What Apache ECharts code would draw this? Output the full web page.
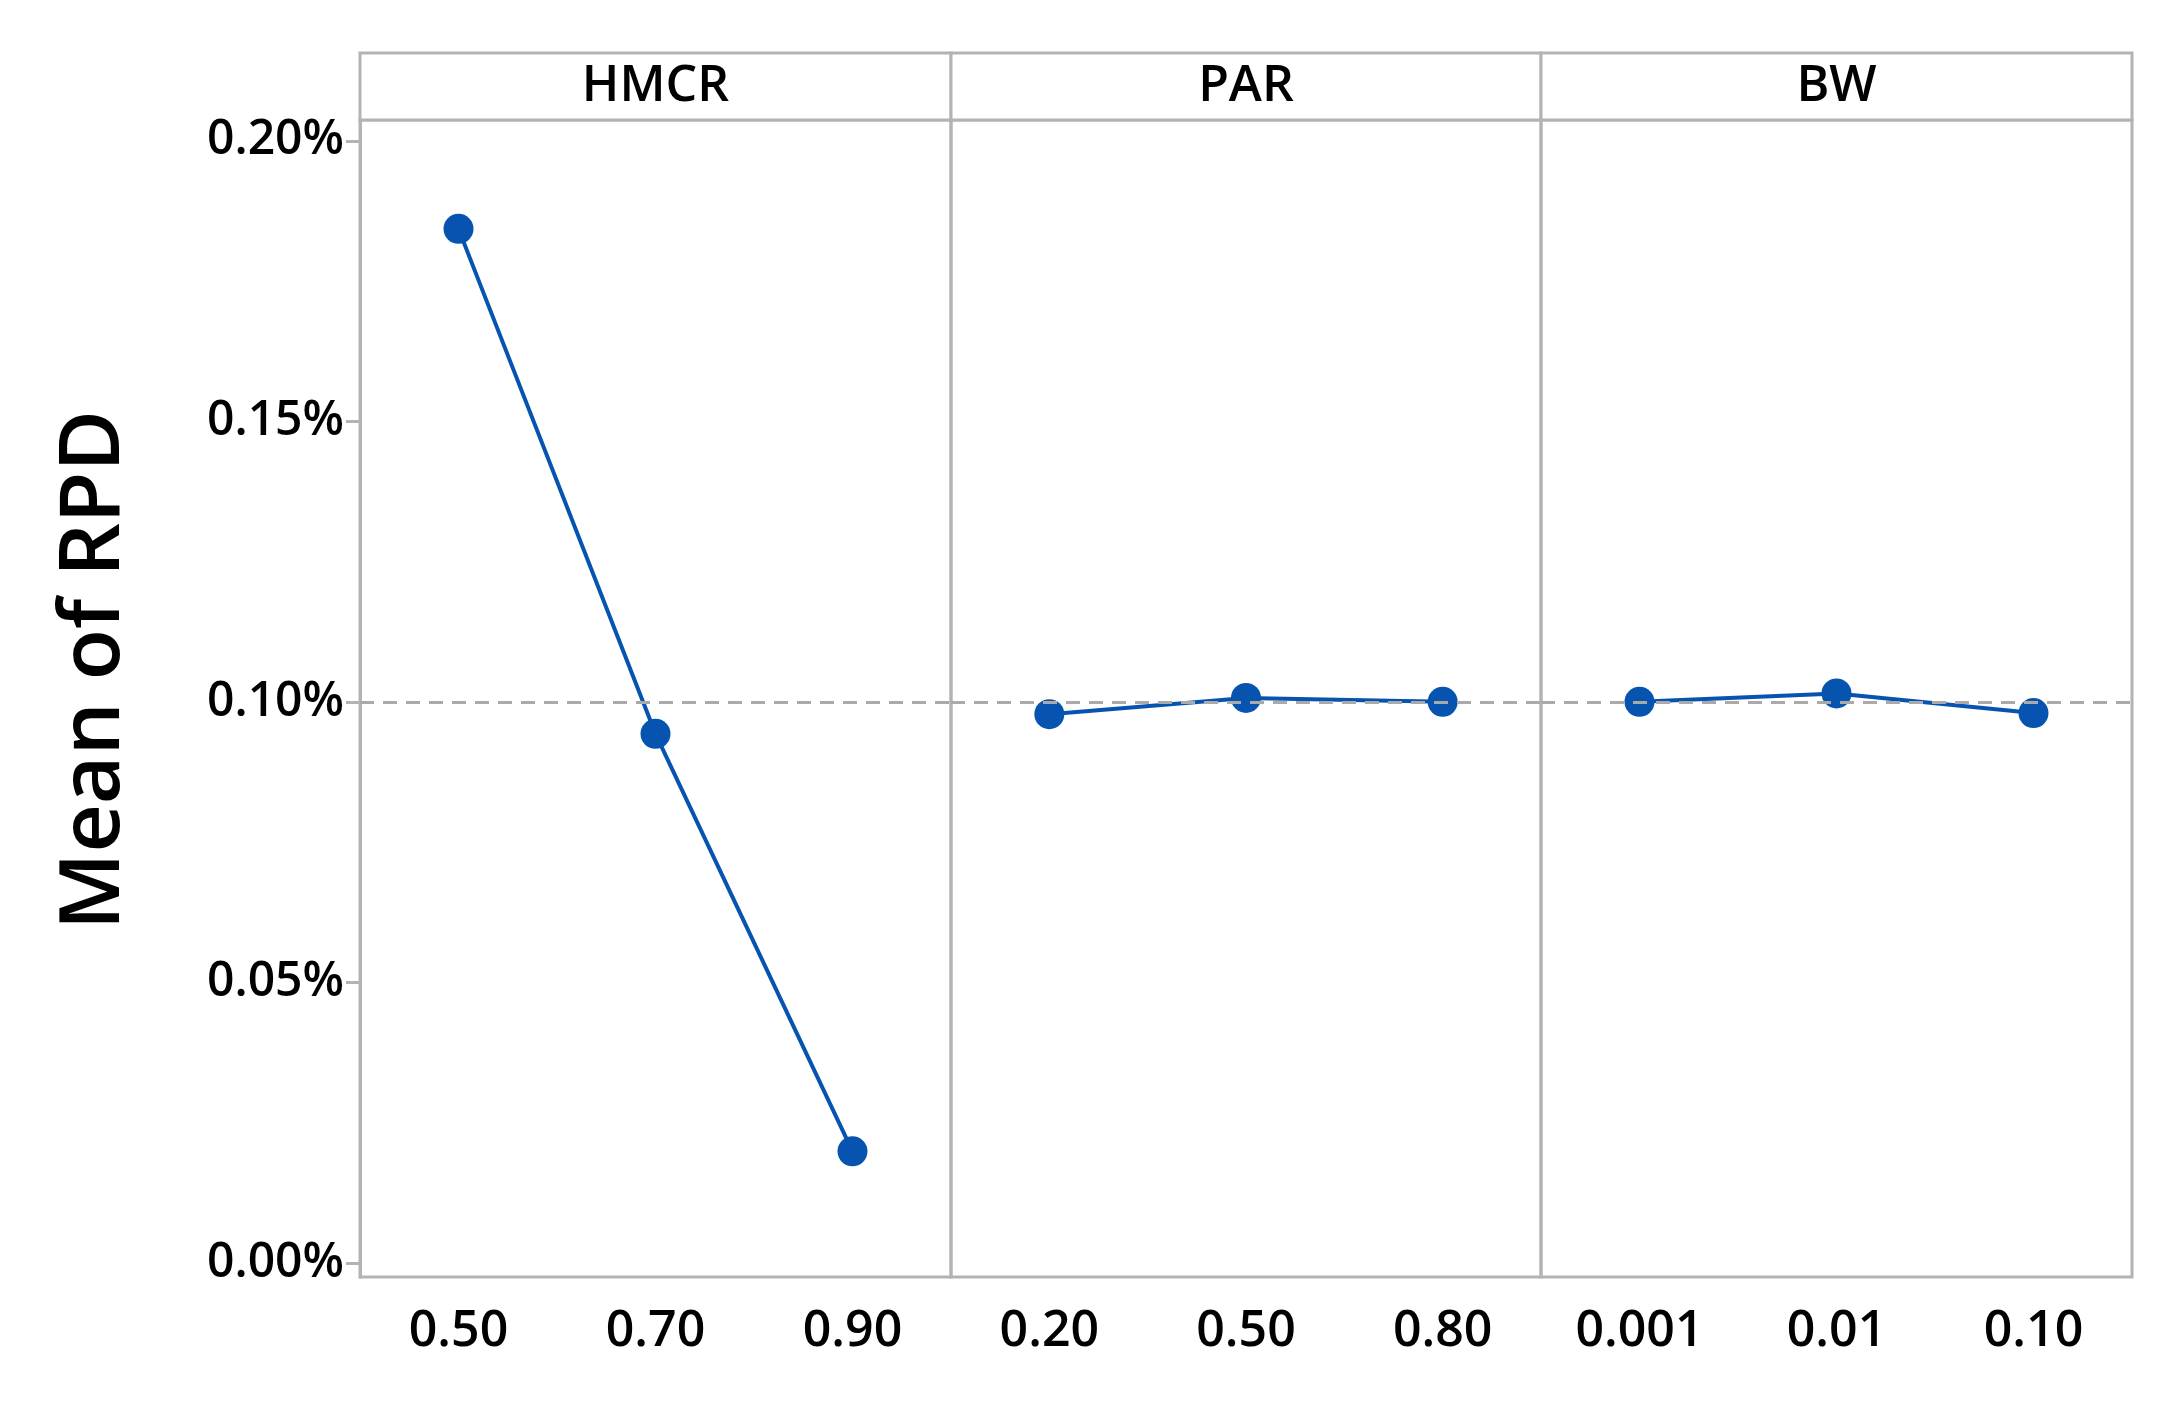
<!DOCTYPE html>
<html><head><meta charset="utf-8">
<script src="https://cdn.jsdelivr.net/npm/echarts@6/dist/echarts.min.js"></script>
<style>html,body{margin:0;padding:0;background:#fff}#c{width:2182px;height:1411px}</style>
</head><body><div id="c"></div>
<script>
const panels = ['HMCR', 'PAR', 'BW'];
const hmcrLevels = ['0.50', '0.70', '0.90'];
const parLevels = ['0.20', '0.50', '0.80'];
const bwLevels = ['0.001', '0.01', '0.10'];
const hmcrMeans = [0.1843, 0.0943, 0.0199];
const parMeans = [0.0978, 0.1007, 0.1000];
const bwMeans = [0.1000, 0.1015, 0.0980];
const overallMean = 0.0996;
const yTicks = [0, 0.05, 0.10, 0.15, 0.20];

const levels = [hmcrLevels, parLevels, bwLevels];
const means = [hmcrMeans, parMeans, bwMeans];
const gridLeft = [360, 951, 1541], gridWidth = [591, 590, 591];
const gridTop = 120, gridBottom = 134, headTop = 53;
const axisColor = '#b3b3b3', lineColor = '#0654b0';
const font = 'Open Sans';

const grids = [], xAxes = [], yAxes = [], series = [], graphics = [];
for (let i = 0; i < 3; i++) {
  grids.push({left: gridLeft[i], width: gridWidth[i], top: gridTop, bottom: gridBottom,
    show: true, borderColor: axisColor, borderWidth: 3, containLabel: false});
  xAxes.push({type: 'category', gridIndex: i, data: levels[i], boundaryGap: true,
    axisLine: {show: false}, axisTick: {show: false},
    axisLabel: {fontFamily: font, fontSize: 50, fontWeight: 600, color: '#000', margin: 30}});
  yAxes.push({type: 'value', gridIndex: i, min: -0.0025, max: 0.2037,
    splitLine: {show: false},
    axisLine: {show: i === 0, lineStyle: {color: axisColor, width: 3}},
    axisTick: {show: i === 0, length: 14, lineStyle: {color: axisColor, width: 3}, customValues: yTicks},
    axisLabel: {show: i === 0, fontFamily: font, fontSize: 48, fontWeight: 600, color: '#000', margin: 16,
      customValues: yTicks, formatter: v => v.toFixed(2) + '%'}});
  series.push({type: 'line', xAxisIndex: i, yAxisIndex: i, data: means[i],
    symbol: 'circle', symbolSize: 30, lineStyle: {color: lineColor, width: 4},
    itemStyle: {color: lineColor}, z: 3,
    markLine: {silent: true, symbol: 'none', label: {show: false},
      lineStyle: {color: '#aaa', type: [14, 9], width: 3}, data: [{yAxis: overallMean}]}});
  graphics.push({type: 'rect', shape: {x: gridLeft[i], y: headTop, width: gridWidth[i], height: gridTop - headTop},
    style: {fill: '#fff', stroke: axisColor, lineWidth: 3}});
  graphics.push({type: 'text', x: gridLeft[i] + gridWidth[i] / 2, y: (headTop + gridTop) / 2,
    style: {text: panels[i], fontFamily: font, fontSize: 50, fontWeight: 600, fill: '#000', align: 'center', verticalAlign: 'middle'}});
}
graphics.push({type: 'text', x: 95, y: 670, rotation: Math.PI / 2,
  style: {text: 'Mean of RPD', fontFamily: font, fontSize: 84, fontWeight: 600, fill: '#000', align: 'center', verticalAlign: 'middle'}});

const chart = echarts.init(document.getElementById('c'));
chart.setOption({backgroundColor: '#fff', animation: false, grid: grids, xAxis: xAxes, yAxis: yAxes, series, graphic: graphics});
</script></body></html>
